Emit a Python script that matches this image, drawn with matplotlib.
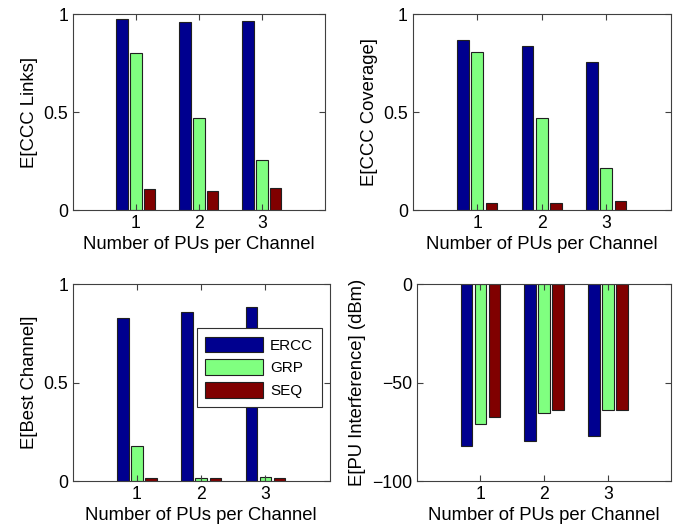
import matplotlib
matplotlib.use('Agg')
import matplotlib.pyplot as plt
import numpy as np

plt.rcParams['font.family'] = ['Liberation Sans', 'DejaVu Sans']

pus = [1, 2, 3]
methods = ['ERCC', 'GRP', 'SEQ']
colors = ['#00008f', '#80ff80', '#800000']

links_ercc = [0.973, 0.959, 0.966]
links_grp = [0.803, 0.469, 0.255]
links_seq = [0.107, 0.099, 0.114]

cover_ercc = [0.867, 0.838, 0.753]
cover_grp = [0.804, 0.469, 0.213]
cover_seq = [0.036, 0.036, 0.044]

best_ercc = [0.829, 0.858, 0.885]
best_grp = [0.180, 0.014, 0.022]
best_seq = [0.014, 0.014, 0.014]

interf_ercc = [-82.4, -79.7, -77.3]
interf_grp = [-70.8, -65.3, -63.7]
interf_seq = [-67.5, -63.9, -63.9]

panels = [
    ([links_ercc, links_grp, links_seq], 'E[CCC Links]', (0, 1), [0, 0.5, 1], ['0', '0.5', '1'],
     [0.107, 0.6045, 0.370, 0.369]),
    ([cover_ercc, cover_grp, cover_seq], 'E[CCC Coverage]', (0, 1), [0, 0.5, 1], ['0', '0.5', '1'],
     [0.606, 0.6045, 0.379, 0.369]),
    ([best_ercc, best_grp, best_seq], 'E[Best Channel]', (0, 1), [0, 0.5, 1], ['0', '0.5', '1'],
     [0.107, 0.094, 0.377, 0.371]),
    ([interf_ercc, interf_grp, interf_seq], 'E[PU Interference] (dBm)', (-100, 0), [-100, -50, 0],
     ['\u2212100', '\u221250', '0'], [0.612, 0.094, 0.374, 0.371]),
]

fig = plt.figure(figsize=(6.81, 5.31), dpi=100)
x = np.array(pus)
offsets = [-0.22, 0, 0.22]
width = 0.18

axes = []
for series, ylabel, ylim, yticks, yticklabels, pos in panels:
    ax = fig.add_axes(pos)
    for vals, off, c, name in zip(series, offsets, colors, methods):
        ax.bar(x + off, vals, width, color=c, edgecolor='#202020', linewidth=0.8, label=name)
    ax.set_xlim(0, 4)
    ax.set_ylim(*ylim)
    ax.set_xticks(pus)
    ax.set_yticks(yticks)
    ax.set_yticklabels(yticklabels)
    ax.tick_params(direction='in', top=True, right=True, labelsize=12.7, length=4, color='#404040')
    for s in ax.spines.values():
        s.set_color('#404040')
        s.set_linewidth(0.8)
    ax.set_xlabel('Number of PUs per Channel', fontsize=13.3, labelpad=3)
    ax.set_ylabel(ylabel, fontsize=13.3)
    axes.append(ax)

leg = axes[2].legend(loc='upper left', bbox_to_anchor=(0.289, 0.382), bbox_transform=fig.transFigure,
                     borderaxespad=0, fontsize=11, frameon=True, fancybox=False, framealpha=1,
                     edgecolor='#303030', handlelength=3.8, handleheight=1.2, borderpad=0.55,
                     labelspacing=0.45, handletextpad=0.45)
leg.get_frame().set_linewidth(0.8)

fig.savefig('out.png', dpi=100)
